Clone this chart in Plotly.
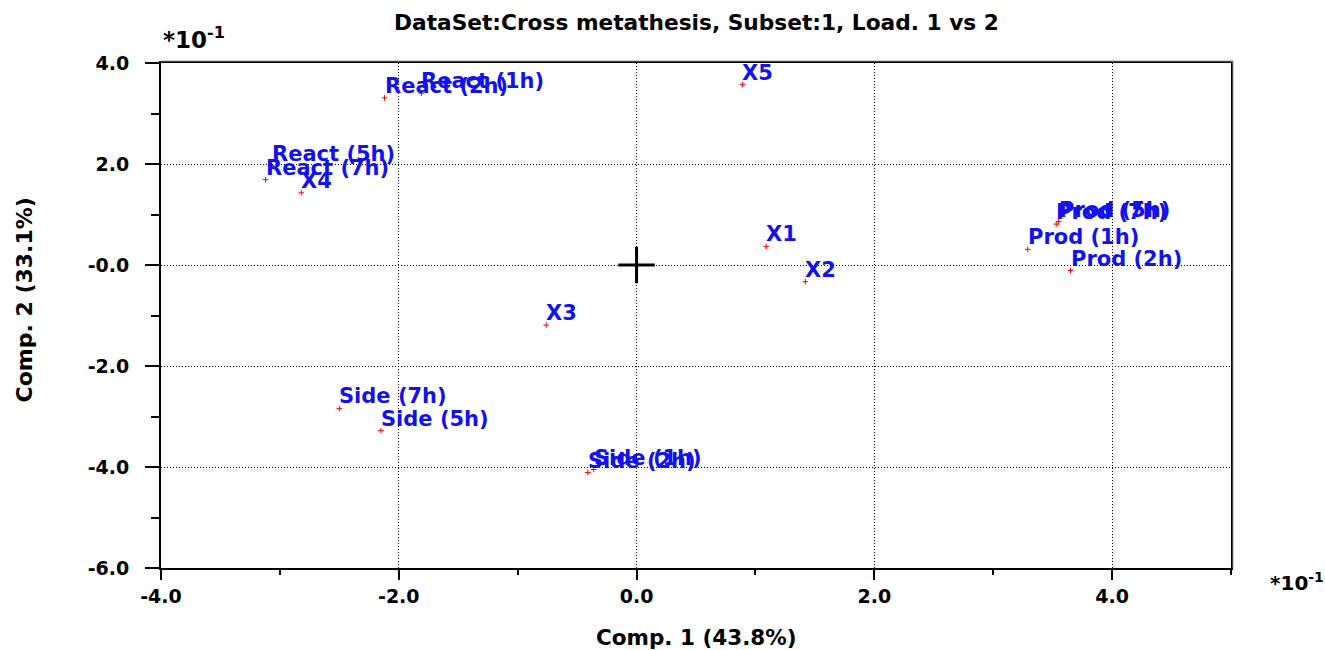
import plotly.graph_objects as go

names = ["React (1h)", "React (2h)", "React (5h)", "React (7h)",
         "Prod (1h)", "Prod (2h)", "Prod (5h)", "Prod (7h)",
         "Side (1h)", "Side (2h)", "Side (5h)", "Side (7h)",
         "X1", "X2", "X3", "X4", "X5"]
comp1 = [-1.81, -2.12, -3.07, -3.12,
         3.29, 3.65, 3.55, 3.53,
         -0.36, -0.41, -2.15, -2.50,
         1.09, 1.42, -0.76, -2.82, 0.89]
comp2 = [3.40, 3.31, 1.97, 1.69,
         0.31, -0.11, 0.86, 0.81,
         -4.05, -4.11, -3.28, -2.84,
         0.37, -0.33, -1.19, 1.43, 3.57]

x_ticks = [-4, -2, 0, 2, 4]
x_ticktext = ["-4.0", "-2.0", "0.0", "2.0", "4.0"]
y_ticks = [4, 2, 0, -2, -4, -6]
y_ticktext = ["4.0", "2.0", "-0.0", "-2.0", "-4.0", "-6.0"]

title = "DataSet:Cross metathesis, Subset:1, Load. 1 vs 2"
x_title = "Comp. 1 (43.8%)"
y_title = "Comp. 2 (33.1%)"

FONT = "DejaVu Sans, Liberation Sans, sans-serif"
BLUE = "#1212ee"

fig = go.Figure()

# origin cross
fig.add_trace(go.Scatter(
    x=[0], y=[0], mode="markers",
    marker=dict(symbol="cross-thin", size=26, line=dict(color="black", width=3)),
    hoverinfo="skip", showlegend=False))

fig.add_trace(go.Scatter(
    x=comp1, y=comp2, mode="markers", text=names, hoverinfo="text",
    marker=dict(symbol="cross-thin", size=4, line=dict(color="red", width=1), color="red"),
    showlegend=False))

annotations = []
for n, xv, yv in zip(names, comp1, comp2):
    annotations.append(dict(
        x=xv, y=yv, xref="x", yref="y", text="<b>" + n + "</b>", showarrow=False,
        xanchor="left", yanchor="middle", xshift=-2, yshift=12,
        font=dict(family=FONT, size=21, color=BLUE)))

axis_common = dict(
    showline=True, linecolor="black", linewidth=2, mirror=True,
    showgrid=True, gridcolor="black", griddash="1px,2px", gridwidth=1,
    zeroline=False, ticks="outside", tickcolor="black", tickwidth=2,
    tickfont=dict(family=FONT, size=19, color="black", weight="bold"),
)

fig.update_xaxes(
    range=[-4, 5], tickmode="array", tickvals=x_ticks, ticktext=x_ticktext,
    ticklen=10,
    minor=dict(dtick=1, tick0=-4, ticklen=5, ticks="outside", tickcolor="black", tickwidth=2, showgrid=False),
    **axis_common)
fig.update_yaxes(
    range=[-6, 4], tickmode="array", tickvals=y_ticks, ticktext=y_ticktext,
    ticklen=14, ticklabelstandoff=12,
    minor=dict(dtick=1, tick0=-6, ticklen=8, ticks="outside", tickcolor="black", tickwidth=2, showgrid=False),
    **axis_common)

annotations += [
    dict(text="<b>" + title + "</b>", xref="paper", yref="paper", x=0.5, y=1, yshift=41,
         showarrow=False, font=dict(family=FONT, size=21.7, color="black"), xanchor="center", yanchor="middle"),
    dict(text="<b>" + x_title + "</b>", xref="paper", yref="paper", x=0.5, y=0, yshift=-69,
         showarrow=False, font=dict(family=FONT, size=21.5, color="black"), xanchor="center", yanchor="middle"),
    dict(text="<b>" + y_title + "</b>", xref="paper", yref="paper", x=0, y=0.5, xshift=-137, yshift=15,
         textangle=-90, showarrow=False, font=dict(family=FONT, size=22, color="black"),
         xanchor="center", yanchor="middle"),
    dict(text="<b>*10<sup>-1</sup></b>", xref="paper", yref="paper", x=0, y=1, xshift=0, yshift=25,
         showarrow=False, font=dict(family=FONT, size=23, color="black"), xanchor="left", yanchor="middle"),
    dict(text="<b>*10<sup>-1</sup></b>", xref="paper", yref="paper", x=1, y=0, xshift=37, yshift=-14,
         showarrow=False, font=dict(family=FONT, size=20, color="black"), xanchor="left", yanchor="middle"),
]

fig.update_layout(
    width=1325, height=650,
    margin=dict(l=161, r=94, t=63, b=82),
    paper_bgcolor="white", plot_bgcolor="white",
    font=dict(family=FONT, color="black"),
    annotations=annotations,
    shapes=[
        dict(type="line", xref="paper", yref="paper", x0=0, x1=1 + 2 / 1070, y0=1 + 2 / 505, y1=1 + 2 / 505,
             line=dict(color="#999999", width=1)),
        dict(type="line", xref="paper", yref="paper", x0=1 + 2 / 1070, x1=1 + 2 / 1070, y0=0, y1=1 + 2 / 505,
             line=dict(color="#999999", width=1)),
    ],
)

fig.write_html("out.html")
